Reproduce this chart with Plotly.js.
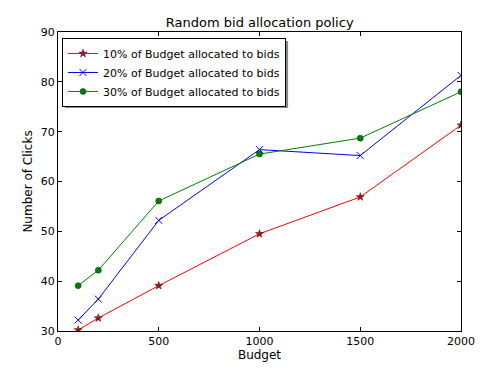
<!DOCTYPE html>
<html>
<head>
<meta charset="utf-8">
<script src="https://cdn.plot.ly/plotly-3.0.1.min.js"></script>
<style>html,body{margin:0;padding:0;background:#fff;}#chart{width:490px;height:376px;}</style>
</head>
<body>
<div id="chart"></div>
<script>
const budgets = [100, 200, 500, 1000, 1500, 2000];
const clicks10 = [30.2, 32.6, 39.1, 49.5, 56.9, 71.3];
const clicks20 = [32.2, 36.4, 52.2, 66.4, 65.2, 81.3];
const clicks30 = [39.1, 42.2, 56.1, 65.5, 68.7, 78.0];
const seriesNames = ['10% of Budget allocated to bids', '20% of Budget allocated to bids', '30% of Budget allocated to bids'];
const xTicks = [0, 500, 1000, 1500, 2000];
const yTicks = [30, 40, 50, 60, 70, 80, 90];

const font = {family: 'DejaVu Sans, sans-serif', size: 11, color: '#000'};
const titleFont = {family: 'DejaVu Sans, sans-serif', size: 12, color: '#000'};
const traces = [
  {x: budgets, y: clicks10, name: seriesNames[0], mode: 'lines+markers',
   line: {color: '#ff0000', width: 1},
   marker: {symbol: 'star', size: 6, color: '#b01010', line: {color: '#400000', width: 0.5}}},
  {x: budgets, y: clicks20, name: seriesNames[1], mode: 'lines+markers',
   line: {color: '#0000ff', width: 1},
   marker: {symbol: 'x-thin', size: 7, color: '#0000ff', line: {color: '#0000ff', width: 1}}},
  {x: budgets, y: clicks30, name: seriesNames[2], mode: 'lines+markers',
   line: {color: '#008000', width: 1},
   marker: {symbol: 'circle', size: 6, color: '#008000', line: {color: '#003000', width: 0.5}}}
];
const axisCommon = {showline: true, linecolor: '#000', linewidth: 1, mirror: 'ticks',
  ticks: 'inside', ticklen: 4, tickcolor: '#000', showgrid: false, zeroline: false,
  tickfont: font};
const layout = {
  width: 490, height: 376,
  margin: {l: 58, r: 29, t: 32, b: 45},
  paper_bgcolor: '#fff', plot_bgcolor: '#fff',
  font: font,
  title: {text: 'Random bid allocation policy', font: {family: 'DejaVu Sans, sans-serif', size: 13, color: '#000'},
          x: 0.53, xanchor: 'center', y: 0.94, yanchor: 'middle'},
  xaxis: Object.assign({}, axisCommon, {range: [0, 2000], tickvals: xTicks, ticktext: xTicks.map(String),
          title: {text: 'Budget', font: titleFont, standoff: 3}}),
  yaxis: Object.assign({}, axisCommon, {range: [30, 90], tickvals: yTicks, ticktext: yTicks.map(String),
          title: {text: 'Number of Clicks', font: titleFont, standoff: 5}}),
  showlegend: true,
  legend: {x: 0.01, y: 0.98, xanchor: 'left', yanchor: 'top', bgcolor: '#fff',
           bordercolor: '#000', borderwidth: 1, font: font, tracegroupgap: 0, itemwidth: 30},
  shapes: [{type: 'rect', xref: 'paper', yref: 'paper', x0: 0.017, x1: 0.571, y0: 0.746, y1: 0.97,
            fillcolor: '#888', line: {width: 0}, layer: 'above'}]
};
Plotly.newPlot('chart', traces, layout, {displayModeBar: false, staticPlot: true});
</script>
</body>
</html>
